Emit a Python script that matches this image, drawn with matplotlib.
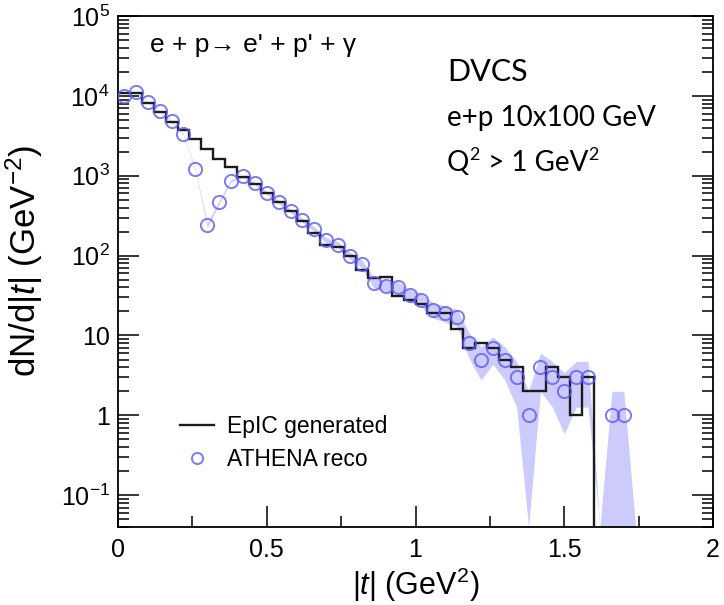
import numpy as np
import matplotlib
matplotlib.use("Agg")
import matplotlib.pyplot as plt
from matplotlib.ticker import MultipleLocator, LogLocator, FuncFormatter, NullFormatter
from matplotlib.lines import Line2D
from matplotlib.transforms import offset_copy

plt.rcParams['font.family'] = ['Liberation Sans', 'DejaVu Sans']
plt.rcParams['mathtext.fontset'] = 'custom'
plt.rcParams['mathtext.rm'] = 'Liberation Sans'
plt.rcParams['mathtext.it'] = 'Liberation Sans:italic'
plt.rcParams['mathtext.bf'] = 'Liberation Sans:bold'

# |t| binning (GeV^2)
bin_edges = np.arange(0, 2.0001, 0.04)

# EpIC generated histogram, one value per 0.04 bin (0 - 2)
gen_counts = [10800, 10800, 8100, 6300, 4700, 3700, 2900, 2150, 1600, 1290,
              970, 780, 610, 470, 363, 275, 190, 135, 129, 100,
              66, 52, 54, 31, 28, 25, 19, 19, 12, 7,
              8, 7, 5, 4, 2, 2, 4, 3, 1, 3,
              0, 0, 0, 0, 0, 0, 0, 0, 0, 0]

# ATHENA reco, bin centres 0.02 ... 1.74
reco_t = [0.02, 0.06, 0.10, 0.14, 0.18, 0.22, 0.26, 0.30, 0.34, 0.38,
          0.42, 0.46, 0.50, 0.54, 0.58, 0.62, 0.66, 0.70, 0.74, 0.78,
          0.82, 0.86, 0.90, 0.94, 0.98, 1.02, 1.06, 1.10, 1.14, 1.18,
          1.22, 1.26, 1.30, 1.34, 1.38, 1.42, 1.46, 1.50, 1.54, 1.58,
          1.62, 1.66, 1.70, 1.74]
reco_counts = [10000, 11200, 8400, 6400, 4800, 3300, 1200, 240, 465, 870,
               980, 800, 610, 470, 364, 277, 214, 155, 137, 100,
               79, 46, 42, 41, 32, 28, 21, 19, 17, 8,
               5, 7, 5, 3, 1, 4, 3, 2, 3, 3,
               0, 1, 1, 0]

x_ticks = [0, 0.5, 1, 1.5, 2]
x_tick_labels = ['0', '0.5', '1', '1.5', '2']

ymin, ymax = 0.04, 1e5

fig = plt.figure(figsize=(7.24, 6.05), dpi=100)
ax = fig.add_axes([118 / 724, 1 - 527 / 605, 595 / 724, 511 / 605])

reco_t = np.array(reco_t)
reco = np.array(reco_counts, dtype=float)
err = np.sqrt(reco)
lo = reco - err
hi = reco + err
lo[lo <= 0] = ymin
hi[hi <= 0] = ymin
ax.fill_between(reco_t, lo, hi, color='#cdcbfb', lw=0, zorder=1)

ax.stairs(gen_counts, bin_edges, baseline=None, color='#1c1c1c', lw=1.7, zorder=3)

m = reco > 0
ax.plot(reco_t[m], reco[m], 'o', ms=9.5, mfc='none', mec='#5a5af5', mew=1.4,
        alpha=0.8, zorder=4)

ax.set_yscale('log')
ax.set_xlim(0, 2)
ax.set_ylim(ymin, ymax)

ax.xaxis.set_major_locator(MultipleLocator(0.5))
ax.xaxis.set_minor_locator(MultipleLocator(0.25))
ax.set_xticks(x_ticks)
ax.set_xticklabels(x_tick_labels)


def ylab(v, pos):
    e = int(round(np.log10(v)))
    if e == 0:
        return '1'
    if e == 1:
        return '10'
    return r'$10^{%d}$' % e


ax.yaxis.set_major_locator(LogLocator(base=10, numticks=12))
ax.yaxis.set_minor_locator(LogLocator(base=10, subs=np.arange(2, 10), numticks=12))
ax.yaxis.set_major_formatter(FuncFormatter(ylab))
ax.yaxis.set_minor_formatter(NullFormatter())

ax.tick_params(which='both', direction='in', top=False, right=True, labelsize=18, width=1.1)
ax.tick_params(which='major', length=15)
ax.tick_params(which='minor', length=8)
ax.tick_params(axis='x', pad=8)
ax.tick_params(axis='y', pad=6)
for s in ax.spines.values():
    s.set_linewidth(1.3)

ax.set_xlabel(r'|$t$| (GeV$^2$)', fontsize=22)
ax.xaxis.set_label_coords(0.5, -0.075)
ax.set_ylabel(r'dN/d|$t$| (GeV$^{-2}$)', fontsize=25)
ax.yaxis.set_label_coords(-0.123, 0.52)

ax.text(0.054, 0.943, "e + p\u2192 e' + p' + \u03b3", transform=ax.transAxes,
        fontsize=19, va='center', ha='left')
ax.text(0.553, 0.890, 'DVCS', transform=ax.transAxes, family='Lato',
        fontsize=22, va='center', ha='left')
ax.text(0.553, 0.800, 'e+p 10x100 GeV', transform=ax.transAxes, family='Lato',
        fontsize=20, va='center', ha='left')

# Q^2 line drawn piece by piece so the superscripts stay in Lato
renderer = fig.canvas.get_renderer()
xoff = 0
for s, fs, dy in [('Q', 20, 0), ('2', 13, 11), (' > 1 GeV', 20, 0), ('2', 13, 11)]:
    tr = offset_copy(ax.transAxes, fig=fig, x=xoff, y=dy, units='dots')
    t = ax.text(0.553, 0.697, s, transform=tr, family='Lato', fontsize=fs,
                va='baseline', ha='left')
    xoff += t.get_window_extent(renderer).width + (1 if fs < 20 else 0)

handles = [Line2D([], [], color='#1c1c1c', lw=1.7),
           Line2D([], [], ls='none', marker='o', ms=8, mfc='none', mec='#5a5af5', mew=1.4, alpha=0.8)]
ax.legend(handles, ['EpIC generated', 'ATHENA reco'], loc='upper left',
          bbox_to_anchor=(0.105, 0.22), frameon=False, fontsize=16.5,
          handlelength=1.45, handletextpad=0.6, borderpad=0, borderaxespad=0,
          labelspacing=0.45)

fig.savefig('out.png', dpi=100)
